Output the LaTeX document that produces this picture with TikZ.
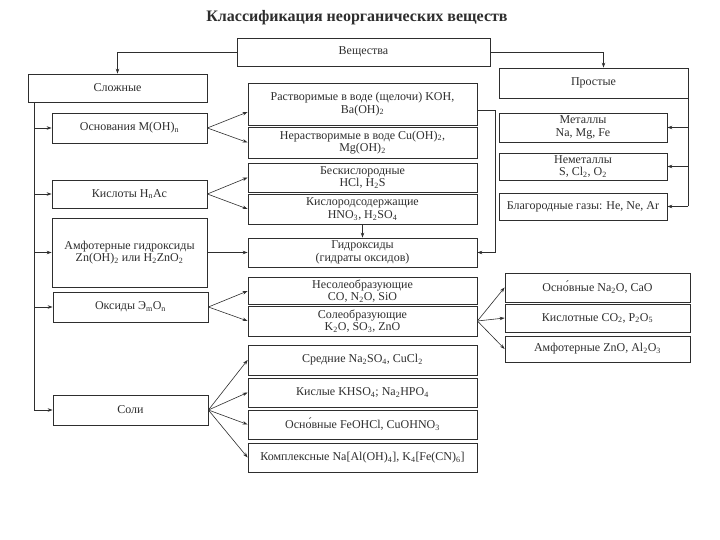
\documentclass[tikz,border=0pt]{standalone}
\usepackage{fontspec}
\setmainfont{Liberation Serif}
\usetikzlibrary{arrows.meta}
\definecolor{ink}{HTML}{2E2E2E}
\newcommand{\sub}[1]{\textsubscript{#1}}
\begin{document}
\begin{tikzpicture}[x=1pt,y=-1pt,
  box/.style={draw=ink, line width=0.8pt, rectangle, inner sep=0.5pt, align=center,
    font=\fontsize{12}{12.5}\selectfont, text=ink},
  arr/.style={draw=ink, line width=0.6pt, -{Stealth[length=5pt,width=3.5pt]}},
  ln/.style={draw=ink, line width=0.6pt}]
\useasboundingbox (0,0) rectangle (720,540);
\fill[white] (0,0) rectangle (720,540);
\node[font=\bfseries\fontsize{16}{18}\selectfont, text=ink] (title) at (357,18) {Классификация неорганических веществ};
% top
\node[box, minimum width=253pt, minimum height=28pt] (vesch) at (363.5,52) {Вещества};
\node[box, minimum width=179pt, minimum height=28pt] (slozh) at (117.5,88) {Сложные};
\node[box, minimum width=189pt, minimum height=30pt] (prost) at (593.5,83) {Простые};
% left column
\node[box, minimum width=155pt, minimum height=30pt] (osn) at (129.5,128) {Основания M(OH)\sub{n}};
\node[box, minimum width=155pt, minimum height=28pt] (kisl) at (129.5,194) {Кислоты H\sub{n}Ac};
\node[box, minimum width=155pt, minimum height=69pt] (amf) at (129.5,252.5) {Амфотерные гидроксиды\\Zn(OH)\sub{2} или H\sub{2}ZnO\sub{2}};
\node[box, minimum width=155pt, minimum height=30pt] (oks) at (130.5,307) {Оксиды Э\sub{m}O\sub{n}};
\node[box, minimum width=155pt, minimum height=30pt] (soli) at (130.5,410) {Соли};
% middle column
\node[box, minimum width=229pt, minimum height=42pt] (rastv) at (362.5,104) {Растворимые в воде (щелочи) KOH,\\Ba(OH)\sub{2}};
\node[box, minimum width=229pt, minimum height=31pt] (nerastv) at (362.5,142.5) {Нерастворимые в воде Cu(OH)\sub{2},\\Mg(OH)\sub{2}};
\node[box, minimum width=229pt, minimum height=29pt] (beskisl) at (362.5,177.5) {Бескислородные\\HCl, H\sub{2}S};
\node[box, minimum width=229pt, minimum height=30pt] (kislsod) at (362.5,209) {Кислородсодержащие\\HNO\sub{3}, H\sub{2}SO\sub{4}};
\node[box, minimum width=229pt, minimum height=29pt] (gidr) at (362.5,252.5) {Гидроксиды\\(гидраты оксидов)};
\node[box, minimum width=229pt, minimum height=27pt] (nesol) at (362.5,291) {Несолеобразующие\\CO, N\sub{2}O, SiO};
\node[box, minimum width=229pt, minimum height=30pt] (sol) at (362.5,321) {Солеобразующие\\K\sub{2}O, SO\sub{3}, ZnO};
\node[box, minimum width=229pt, minimum height=30pt] (sred) at (362.5,360) {Средние Na\sub{2}SO\sub{4}, CuCl\sub{2}};
\node[box, minimum width=229pt, minimum height=29pt] (kisly) at (362.5,392.5) {Кислые KHSO\sub{4}; Na\sub{2}HPO\sub{4}};
\node[box, minimum width=229pt, minimum height=29pt] (osnsol) at (362.5,424.5) {Осно́вные FeOHCl, CuOHNO\sub{3}};
\node[box, minimum width=229pt, minimum height=29pt] (kompl) at (362.5,457.5) {Комплексные Na[Al(OH)\sub{4}], K\sub{4}[Fe(CN)\sub{6}]};
% right column
\node[box, minimum width=168pt, minimum height=29pt] (met) at (583,127.5) {Металлы\\Na, Mg, Fe};
\node[box, minimum width=168pt, minimum height=27pt] (nemet) at (583,166.5) {Неметаллы\\S, Cl\sub{2}, O\sub{2}};
\node[box, minimum width=168pt, minimum height=27pt] (blag) at (583,206.5) {Благородные газы: He, Ne, Ar};
\node[box, minimum width=185pt, minimum height=29pt] (osnok) at (597.5,287.5) {Осно́вные Na\sub{2}O, CaO};
\node[box, minimum width=185pt, minimum height=28pt] (kislok) at (597.5,318) {Кислотные CO\sub{2}, P\sub{2}O\sub{5}};
\node[box, minimum width=185pt, minimum height=26pt] (amfok) at (597.5,349) {Амфотерные ZnO, Al\sub{2}O\sub{3}};
% connectors from top
\draw[arr] (vesch.west) -| (slozh.north);
\draw[arr] (vesch.east) -| ([xshift=10pt]prost.north);
% left trunk
\coordinate (trunk) at ([xshift=7pt]slozh.south west);
\draw[arr] (trunk) |- (soli.west);
\foreach \n in {osn,kisl,amf,oks} \draw[arr] (trunk |- \n.west) -- (\n.west);
% right trunk
\draw[ln] (prost.south east) -- (prost.south east |- blag.east);
\foreach \n in {met,nemet,blag} \draw[arr] (prost.south east |- \n.east) -- (\n.east);
% branches
\draw[arr] (osn.east) -- ([yshift=-8pt]rastv.west);
\draw[arr] (osn.east) -- (nerastv.west);
\draw[arr] (kisl.east) -- (beskisl.west);
\draw[arr] (kisl.east) -- (kislsod.west);
\draw[arr] (amf.east) -- (gidr.west);
\draw[arr] (kislsod.south) -- (gidr.north);
\draw[arr] ([yshift=-6pt]rastv.east) -- ++(18,0) |- (gidr.east);
\draw[arr] (oks.east) -- (nesol.west);
\draw[arr] (oks.east) -- (sol.west);
\draw[arr] (sol.east) -- (osnok.west);
\draw[arr] (sol.east) -- (kislok.west);
\draw[arr] (sol.east) -- (amfok.west);
\foreach \n in {sred,kisly,osnsol,kompl} \draw[arr] (soli.east) -- (\n.west);
\end{tikzpicture}
\end{document}
